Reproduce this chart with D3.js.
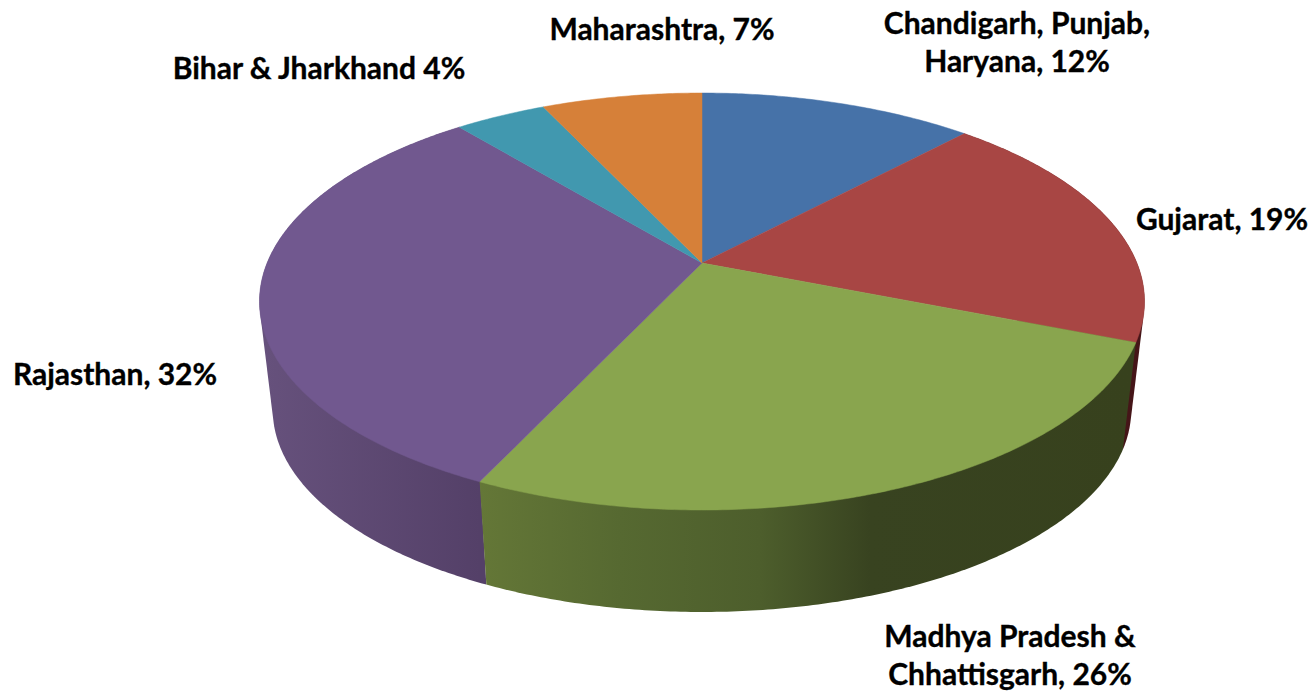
<!DOCTYPE html>
<html lang="en">
<head>
	<meta charset="UTF-8">
	<title>3D pie</title>
	<style>
		html, body { margin: 0; background: #fff; }
		text { font-family: Lato, sans-serif; font-weight: 700; font-size: 30px; fill: #000; stroke: #000; stroke-width: 0.35px; }
	</style>
</head>
<body>
	<svg id="cont" width="1313" height="691"></svg>
	<script src="https://cdn.jsdelivr.net/npm/d3@7"></script>
	<script>
		const categories = ["Chandigarh, Punjab, Haryana", "Gujarat", "Madhya Pradesh & Chhattisgarh", "Rajasthan", "Bihar & Jharkhand", "Maharashtra"];
		const shares = [12, 19, 26, 32, 4, 7];
		const labelLines = [
			["Chandigarh, Punjab,", "Haryana, 12%"],
			["Gujarat, 19%"],
			["Madhya Pradesh &", "Chhattisgarh, 26%"],
			["Rajasthan, 32%"],
			["Bihar & Jharkhand 4%"],
			["Maharashtra, 7%"]
		];
		const colors = ["#4672a8", "#a84644", "#89a54e", "#71588f", "#4198af", "#d68039"];
		const labelPos = [[1017, 22], [1222, 218], [1010, 635], [115, 373], [319, 67], [662, 28]];

		// side wall shading, x position -> colour
		const sideStops = {
			1: [[1100, "#451518"], [1145, "#451518"]],
			2: [[480, "#647737"], [620, "#566931"], [760, "#4d5e2c"], [870, "#384320"], [1130, "#37411d"]],
			3: [[265, "#66517c"], [480, "#544068"]]
		};
		const drawOrder = [1, 3, 2];

		let svg = d3.select("#cont");
		let defs = svg.append("defs");

		// perspective of the disc: centre sits above the middle of the ellipse
		const cx = 702, cy = 263, k = 0.1847, a = -152.8, c = 434.9;
		const drop = 109.4, shrink = 0.97;

		function project(theta, low) {
			let X = Math.sin(theta), Y = Math.cos(theta);
			let w = 1 + k * Y;
			let x = c * X / w, y = (a * Y + cy) / w;
			if (low) return [cx + x * shrink, cy + drop + (y - cy) * shrink];
			return [cx + x, y];
		}

		function rim(start, end, low) {
			let n = Math.ceil((end - start) / 0.01);
			return d3.range(n + 1).map(i => project(start + (end - start) * i / n, low));
		}

		let line = d3.line().curve(d3.curveLinear);
		let arcs = d3.pie().sort(null).value(d => d)(shares);

		// sides first, the top covers whatever the hull adds behind the rim
		drawOrder.forEach(i => {
			let d = arcs[i];
			let x0 = sideStops[i][0][0], x1 = sideStops[i][sideStops[i].length - 1][0];
			let grad = defs.append("linearGradient")
				.attr("id", "side" + i)
				.attr("gradientUnits", "userSpaceOnUse")
				.attr("x1", x0).attr("x2", x1)
				.attr("y1", 0).attr("y2", 0);
			grad.selectAll("stop").data(sideStops[i]).enter().append("stop")
				.attr("offset", s => (s[0] - x0) / (x1 - x0))
				.attr("stop-color", s => s[1]);
			let pts = rim(d.startAngle, d.endAngle, false).concat(rim(d.startAngle, d.endAngle, true));
			svg.append("path")
				.attr("d", line(d3.polygonHull(pts)) + "Z")
				.attr("fill", "url(#side" + i + ")");
		});

		// top of the pie
		svg.selectAll("path.top").data(arcs).enter().append("path")
			.attr("class", "top")
			.attr("d", d => line([[cx, cy]].concat(rim(d.startAngle, d.endAngle, false))) + "Z")
			.attr("fill", (d, i) => colors[i])
			.attr("stroke", (d, i) => colors[i])
			.attr("stroke-width", 0.5);

		// labels
		labelLines.forEach((lines, i) => {
			lines.forEach((s, j) => {
				svg.append("text")
					.attr("x", labelPos[i][0])
					.attr("y", labelPos[i][1] + j * 37.5)
					.attr("text-anchor", "middle")
					.attr("dominant-baseline", "central")
					.text(s);
			});
		});
	</script>
</body>
</html>
